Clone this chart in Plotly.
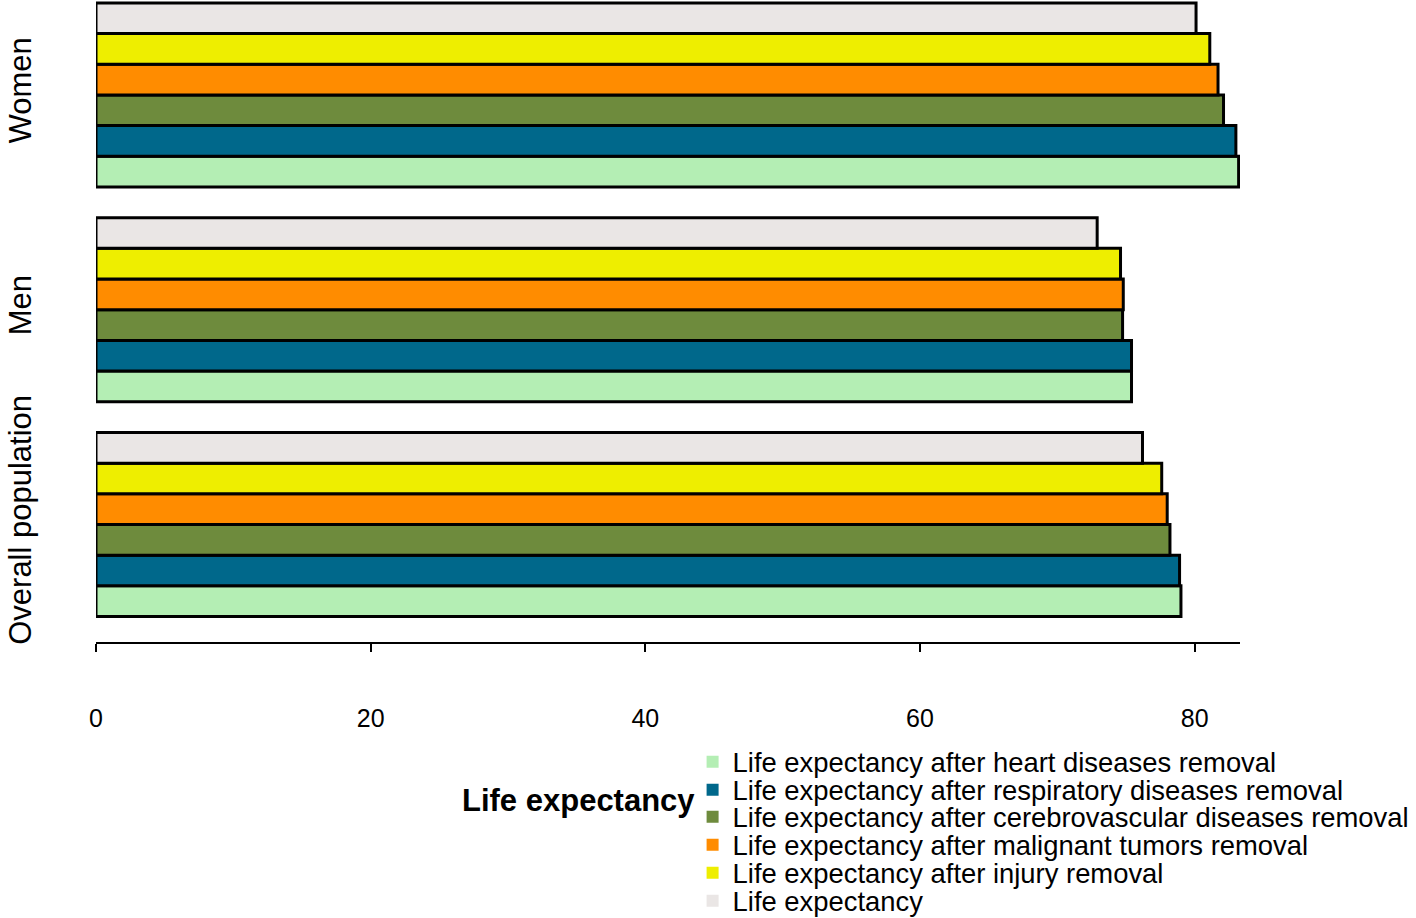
import plotly.graph_objects as go

categories = ["Overall population", "Men", "Women"]

series_names = [
    "Life expectancy after heart diseases removal",
    "Life expectancy after respiratory diseases removal",
    "Life expectancy after cerebrovascular diseases removal",
    "Life expectancy after malignant tumors removal",
    "Life expectancy after injury removal",
    "Life expectancy",
]
heart = [79.0, 75.4, 83.2]
respiratory = [78.9, 75.4, 83.0]
cerebrovascular = [78.2, 74.75, 82.1]
malignant = [78.0, 74.8, 81.7]
injury = [77.6, 74.6, 81.1]
life_expectancy = [76.2, 72.9, 80.1]
series_values = [heart, respiratory, cerebrovascular, malignant, injury, life_expectancy]
colors = ["#b4eeb4", "#00688b", "#6e8b3d", "#ff8c00", "#eeee00", "#eae6e5"]

x_ticks = [0, 20, 40, 60, 80]

FONT = "Liberation Sans, Arial, sans-serif"

fig = go.Figure()
for name, vals, col in zip(series_names, series_values, colors):
    fig.add_trace(go.Bar(
        y=categories, x=vals, name=name, orientation="h",
        marker=dict(color=col, line=dict(color="black", width=3)),
        showlegend=False,
    ))

# legend entries (one legend each for exact row spacing)
row_px = [762, 790, 817, 845, 873, 901]
plot_top, plot_bottom = 0, 642
legend_layouts = {}
for i, (name, col) in enumerate(zip(series_names, colors)):
    lg = "legend" if i == 0 else f"legend{i+1}"
    fig.add_trace(go.Scatter(
        x=[None], y=[None], mode="markers", name=name,
        marker=dict(symbol="square", size=12, color=col),
        legend=lg, showlegend=True,
    ))
    legend_layouts[lg] = dict(
        x=0.5215, xanchor="left",
        y=(plot_bottom - row_px[i]) / (plot_bottom - plot_top), yanchor="middle",
        bgcolor="rgba(0,0,0,0)", borderwidth=0,
        font=dict(family=FONT, size=27.4, color="black"),
    )

fig.update_layout(
    barmode="group", bargap=0.143, bargroupgap=0,
    width=1416, height=918,
    margin=dict(l=96, r=176, t=0, b=276, autoexpand=False),
    plot_bgcolor="white", paper_bgcolor="white",
    font=dict(family=FONT, color="black"),
    **legend_layouts,
)
fig.update_xaxes(
    range=[0, 83.3], tickvals=x_ticks, ticktext=[str(t) for t in x_ticks],
    showgrid=False, zeroline=False, showline=True, linecolor="black", linewidth=1.5,
    ticks="outside", ticklen=8, tickwidth=1.5, tickcolor="black",
    tickfont=dict(size=25, family=FONT, color="black"),
    ticklabelstandoff=45, automargin=False,
)
fig.update_yaxes(
    range=[-0.547, 2.442], showgrid=False, zeroline=False, showline=False,
    ticks="", tickangle=-90, tickfont=dict(size=31, family=FONT, color="black"),
    ticklabelstandoff=58, automargin=False,
)
fig.add_annotation(
    text="<b>Life expectancy</b>", xref="paper", yref="paper",
    x=(697 - 96) / 1144, y=(642 - 800) / 642, xanchor="right", yanchor="middle",
    showarrow=False, font=dict(family=FONT, size=31, color="black"),
)
fig.write_html(
    "out.html",
    config={"displayModeBar": False},
    post_script="document.body.style.margin='0';document.body.style.overflow='hidden';",
)
